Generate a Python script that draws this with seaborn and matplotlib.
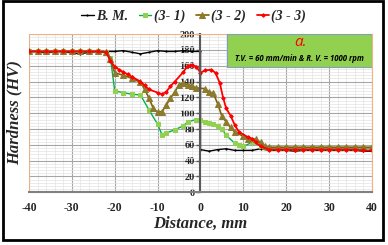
import matplotlib
matplotlib.use('Agg')
import matplotlib.pyplot as plt
import seaborn as sns
from matplotlib.patches import Rectangle
from matplotlib.ticker import MultipleLocator

sns.set_style('white')
plt.rcParams['font.family'] = ['Liberation Serif', 'DejaVu Serif']

# 读取自图片的数据
bm_x = [-40, -38, -36, -34, -32, -30, -28, -26, -24, -22, -20, -18, -16, -14, -12, -10, -8, -6, -4, -2, 0,
        0, 2, 4, 6, 8, 10, 12, 14, 16, 18, 20, 22, 24, 26, 28, 30, 32, 34, 36, 38, 40]
bm_y = [178, 178, 176, 178, 178, 176, 175, 177, 178, 178, 178, 179, 177, 175, 177, 179, 178, 178, 179, 178, 178,
        54, 52, 54, 55, 53, 53, 53, 55, 53, 53, 53, 52, 53, 53, 53, 53, 53, 53, 53, 52, 52]

s1_x = [-40, -38, -36, -34, -32, -30, -28, -26, -24, -22, -21, -20, -18, -16, -14, -12, -10, -9, -8, -6, -4,
        -3, -1, 0, 1, 2, 3, 4, 5, 6, 8, 9, 10, 12, 14, 16, 18, 20, 22, 24, 26, 28, 30, 32, 34, 36, 38, 40]
s1_y = [178, 178, 178, 178, 178, 178, 178, 178, 178, 177, 170, 128, 126, 124, 123, 104, 86, 73, 75, 79, 84,
        89, 92, 91, 89, 88, 86, 84, 80, 72, 62, 60, 58, 63, 59, 56, 56, 56, 56, 56, 56, 56, 56, 56, 56, 56, 56, 56]

s2_x = [-40, -38, -36, -34, -32, -30, -28, -26, -24, -22, -21, -20, -18, -16, -14, -13, -12, -11, -10, -9,
        -8, -7, -6, -5, -4, -3, -2, -1, 1, 2, 3, 4, 5, 6, 7, 8, 10, 11, 13, 14, 15, 16, 18, 20, 22, 24, 26, 28,
        30, 32, 34, 36, 38, 40]
s2_y = [178, 178, 178, 178, 178, 178, 178, 178, 178, 177, 168, 151, 148, 144, 139, 130, 119, 106, 101, 102,
        110, 119, 127, 136, 138, 136, 134, 132, 131, 127, 125, 112, 96, 89, 82, 76, 71, 68, 67, 63, 58, 57, 57,
        57, 57, 57, 57, 57, 57, 57, 57, 57, 57, 57]

s3_x = [-40, -38, -36, -34, -32, -30, -28, -26, -24, -22, -21, -20, -19, -18, -17, -16, -14, -13, -12, -10,
        -9, -8, -7, -6, -4, -3, -2, -1, 0, 1, 2.5, 3.5, 4.5, 5.3, 6, 7, 8, 9, 11, 12, 13, 14, 16, 18, 20, 22,
        24, 26, 28, 30, 32, 34, 36, 38, 40]
s3_y = [178, 178, 178, 178, 178, 178, 178, 178, 178, 177, 166, 159, 155, 152, 149, 146, 140, 135, 130, 126,
        124, 127, 134, 140, 152, 160, 161, 159, 151, 154, 155, 151, 138, 119, 106, 97, 85, 76, 70, 68, 63, 58,
        54, 54, 54, 54, 54, 54, 54, 54, 54, 54, 54, 53, 53]

fig = plt.figure(figsize=(3.88, 2.45), dpi=100)
ax = fig.add_axes([0.0747, 0.215, 0.8841, 0.646])

# 网格
ax.xaxis.set_major_locator(MultipleLocator(10))
ax.xaxis.set_minor_locator(MultipleLocator(2))
ax.yaxis.set_major_locator(MultipleLocator(20))
ax.yaxis.set_minor_locator(MultipleLocator(4))
ax.grid(True, which='major', color='#a6a6a6', lw=0.8)
ax.grid(True, which='minor', color='#e3e3e3', lw=0.5)
ax.set_axisbelow(True)

sns.lineplot(x=bm_x, y=bm_y, ax=ax, color='black', lw=1.0, marker='o', ms=1.6, mew=0,
             estimator=None, sort=False, label='B. M.')
sns.lineplot(x=s1_x, y=s1_y, ax=ax, color='#00b050', lw=1.0, marker='s', ms=3.5, mfc='#92d050',
             mec='#92d050', estimator=None, sort=False, label='(3- 1)')
sns.lineplot(x=s2_x, y=s2_y, ax=ax, color='#7f6000', lw=1.2, marker='^', ms=4, mfc='#8c7a2e',
             mec='#8c7a2e', estimator=None, sort=False, label='(3 - 2)')
sns.lineplot(x=s3_x, y=s3_y, ax=ax, color='#ff0000', lw=1.3, marker='D', ms=1.8, mfc='#ff0000',
             mec='#ff0000', estimator=None, sort=False, label='(3 - 3)')

ax.set_xlim(-40, 40)
ax.set_ylim(0, 200)

# 坐标轴
for s in ['top', 'right']:
    ax.spines[s].set_color('#f4b183')
    ax.spines[s].set_linewidth(0.8)
ax.axvline(-40, color='#f4b183', lw=1.2, zorder=1)
ax.spines['left'].set_position(('data', 0))
ax.spines['left'].set_color('#595959')
ax.spines['left'].set_linewidth(1.5)
ax.spines['bottom'].set_color('#808080')
ax.spines['bottom'].set_linewidth(1.5)
ax.tick_params(axis='y', which='major', direction='out', length=3, width=1, color='#595959', pad=1,
               labelsize=7.5, left=True)
ax.tick_params(axis='x', which='major', direction='out', length=0, pad=7, labelsize=8.5)
ax.tick_params(which='minor', length=0)
for lab in ax.get_xticklabels() + ax.get_yticklabels():
    lab.set_fontweight('bold')
ax.set_xticks(range(-40, 41, 10))
ax.set_xticklabels([str(v) for v in range(-40, 41, 10)], fontweight='bold')

ax.set_xlabel('Distance, mm', fontsize=12, fontweight='bold', style='italic', labelpad=1)
ax.set_ylabel('')
fig.text(0.038, 0.54, 'Hardness (HV)', rotation=90, ha='center', va='center', fontsize=12,
         fontweight='bold', style='italic')

# 注释框
ax.add_patch(Rectangle((6.1, 159), 33.9, 41, facecolor='#92d050', edgecolor='#7f9fbf', lw=0.8, zorder=5))
ax.text(23.3, 189, 'a.', color='red', fontsize=11, style='italic', ha='center', va='center', zorder=6,
        family=['Open Sans', 'DejaVu Sans'])
ax.text(23.0, 169, 'T.V. = 60 mm/min & R. V. = 1000 rpm', color='black', fontsize=5.6, style='italic',
        fontweight='bold', ha='center', va='center', zorder=6, family=['Open Sans', 'DejaVu Sans'])

leg = ax.legend(loc='lower center', bbox_to_anchor=(0.48, 1.0), ncol=4, frameon=False, handlelength=0.9,
                handletextpad=0.15, columnspacing=0.8, borderaxespad=0.4,
                prop={'size': 10, 'weight': 'bold', 'style': 'italic'})

fig.patches.append(Rectangle((0.008, 0.02), 0.978, 0.975, transform=fig.transFigure, fill=False,
                             edgecolor='black', lw=2))

fig.savefig('out.png', dpi=100)
